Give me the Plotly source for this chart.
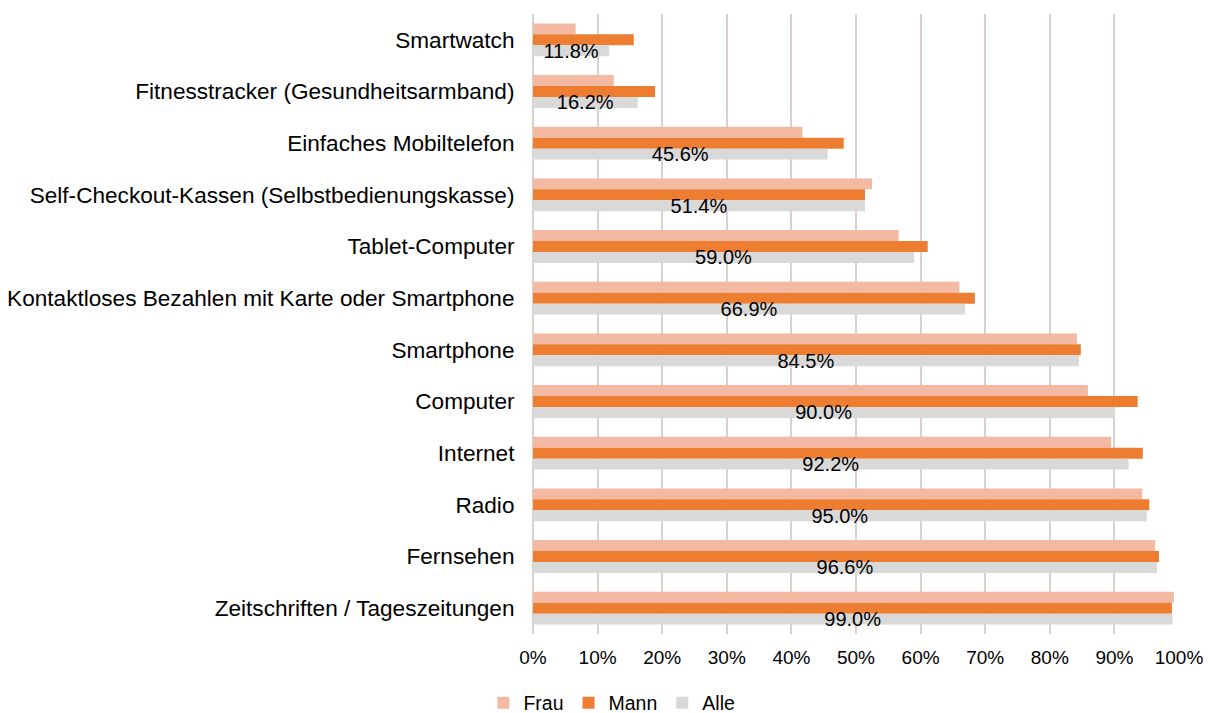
import plotly.graph_objects as go

categories = [
    "Smartwatch",
    "Fitnesstracker (Gesundheitsarmband)",
    "Einfaches Mobiltelefon",
    "Self-Checkout-Kassen (Selbstbedienungskasse)",
    "Tablet-Computer",
    "Kontaktloses Bezahlen mit Karte oder Smartphone",
    "Smartphone",
    "Computer",
    "Internet",
    "Radio",
    "Fernsehen",
    "Zeitschriften / Tageszeitungen",
]
frau = [6.6, 12.5, 41.7, 52.5, 56.6, 66.0, 84.2, 85.9, 89.5, 94.3, 96.3, 99.2]
mann = [15.6, 18.9, 48.1, 51.4, 61.1, 68.4, 84.8, 93.6, 94.4, 95.4, 96.9, 98.9]
alle = [11.8, 16.2, 45.6, 51.4, 59.0, 66.9, 84.5, 90.0, 92.2, 95.0, 96.6, 99.0]
x_ticks = list(range(0, 101, 10))

FONT = "Liberation Sans, Arial, sans-serif"

fig = go.Figure()
fig.add_trace(go.Bar(y=categories, x=frau, name="Frau", orientation="h",
                     marker=dict(color="#F4B9A3", line=dict(width=0))))
fig.add_trace(go.Bar(y=categories, x=mann, name="Mann", orientation="h",
                     marker=dict(color="#ED7D31", line=dict(width=0))))
fig.add_trace(go.Bar(y=categories, x=alle, name="Alle", orientation="h",
                     marker=dict(color="#D9D9D9", line=dict(width=0)),
                     texttemplate="%{x:.1f}%", textposition="inside",
                     insidetextanchor="middle", textangle=0,
                     constraintext="none", cliponaxis=False,
                     textfont=dict(family=FONT, size=20, color="#000000")))

fig.update_layout(
    width=1203, height=705,
    margin=dict(l=525, r=32, t=6, b=79, autoexpand=False),
    paper_bgcolor="white", plot_bgcolor="white",
    barmode="group", bargap=0.366, bargroupgap=0,
    font=dict(family=FONT, color="#000000"),
    showlegend=True,
    legend=dict(orientation="h", xref="container", yref="container",
                x=0.502, xanchor="center", y=0.0142, yanchor="middle",
                font=dict(family=FONT, size=19.5, color="#000000"),
                itemwidth=30, traceorder="normal"),
)
fig.update_xaxes(
    range=[0, 100], tickvals=x_ticks, ticktext=[f"{v}%" for v in x_ticks],
    showgrid=True, gridcolor="#DAD0D0", gridwidth=2,
    zeroline=True, zerolinecolor="#DAD0D0", zerolinewidth=2,
    showline=False, ticks="outside", ticklen=6, tickcolor="rgba(0,0,0,0)",
    tickfont=dict(family=FONT, size=19, color="#000000"), automargin=False,
)
fig.update_yaxes(
    autorange="reversed", showgrid=False, showline=False,
    ticks="outside", ticklen=13, tickcolor="rgba(0,0,0,0)",
    tickfont=dict(family=FONT, size=22.6, color="#000000"), automargin=False,
)

fig.write_html("out.html")
